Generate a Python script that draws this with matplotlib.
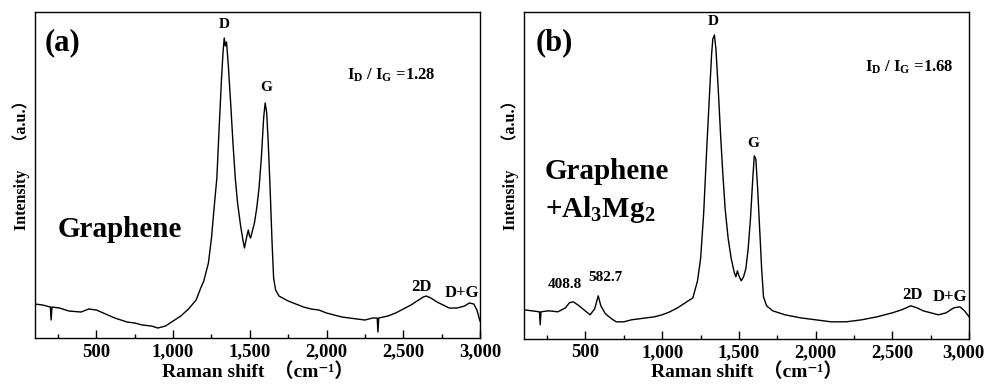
import matplotlib.pyplot as plt
from matplotlib.ticker import MultipleLocator, StrMethodFormatter
from matplotlib.transforms import ScaledTranslation

# Raman spectra (intensity in arbitrary units)
shift_a = [100, 150, 200, 205, 210, 260, 320, 400, 450, 500, 560, 620, 700, 750, 800,
           860, 900, 950, 1000, 1050, 1100, 1150, 1180, 1200, 1230, 1250, 1270, 1285,
           1300, 1315, 1325, 1333, 1340, 1348, 1360, 1375, 1390, 1405, 1420, 1440, 1455,
           1465, 1478, 1490, 1498, 1505, 1518, 1530, 1545, 1560, 1575, 1590, 1600, 1610,
           1620, 1632, 1645, 1655, 1668, 1690, 1750, 1800, 1850, 1900, 1950, 2000, 2050,
           2100, 2150, 2200, 2250, 2300, 2330, 2335, 2340, 2400, 2450, 2500, 2550, 2600,
           2630, 2650, 2680, 2720, 2760, 2800, 2850, 2900, 2930, 2960, 2980, 3000]
int_a = [34, 33, 31, 18, 31, 30, 27, 26, 29, 28, 24, 20, 16, 15, 13,
         12, 10, 12, 17, 22, 29, 38, 50, 57, 75, 100, 135, 160,
         210, 258, 285, 300, 292, 296, 272, 235, 195, 160, 135, 112, 98,
         90, 100, 108, 102, 100, 108, 115, 130, 150, 180, 220, 235, 225,
         195, 150, 95, 60, 48, 42, 37, 34, 31, 29, 28, 25, 23,
         21, 20, 19, 18, 20, 20, 6, 20, 22, 25, 29, 33, 38,
         41, 42, 40, 36, 33, 30, 30, 32, 35, 34, 28, 17]

shift_b = [100, 150, 200, 205, 210, 260, 320, 370, 395, 420, 450, 490, 530, 560, 583,
           600, 630, 670, 700, 750, 800, 850, 900, 950, 1000, 1050, 1100, 1150, 1180,
           1200, 1230, 1250, 1270, 1290, 1310, 1322, 1330, 1340, 1350, 1365, 1380, 1395,
           1410, 1430, 1450, 1470, 1480, 1490, 1500, 1515, 1530, 1545, 1560, 1575, 1590,
           1600, 1610, 1622, 1635, 1648, 1660, 1680, 1720, 1800, 1900, 2000, 2100, 2200,
           2300, 2400, 2500, 2560, 2620, 2660, 2700, 2750, 2800, 2850, 2900, 2940, 2970,
           3000]
int_b = [29, 28, 27, 14, 27, 28, 27, 31, 36, 37, 34, 29, 24, 30, 43,
         33, 25, 20, 17, 17, 19, 20, 21, 22, 24, 27, 31, 36, 39,
         41, 58, 80, 125, 190, 250, 285, 300, 304, 290, 250, 205, 165,
         130, 100, 80, 66, 62, 68, 63, 58, 62, 70, 90, 120, 160,
         183, 180, 150, 110, 70, 42, 33, 28, 24, 21, 19, 17, 17,
         19, 22, 26, 29, 33, 31, 28, 26, 24, 26, 31, 32, 28,
         22]

plt.rcParams['mathtext.fontset'] = 'custom'
plt.rcParams['mathtext.rm'] = 'Liberation Serif:bold'
plt.rcParams['mathtext.bf'] = 'Liberation Serif:bold'
plt.rcParams['mathtext.it'] = 'Liberation Serif:bold'
serif = ['Liberation Serif', 'DejaVu Serif', 'Noto Sans CJK SC']
plt.rcParams['font.family'] = serif
plt.rcParams['font.weight'] = 'bold'

fig = plt.figure(figsize=(9.87, 3.85), dpi=100)
ax_a = fig.add_axes([0.0355, 0.122, 0.4508, 0.847])
ax_b = fig.add_axes([0.531, 0.120, 0.4509, 0.849])


def style_axes(ax, top):
    ax.set_xlim(100, 3000)
    ax.set_ylim(0, top)
    ax.set_yticks([])
    ax.set_xticks([500, 1000, 1500, 2000, 2500, 3000])
    ax.xaxis.set_minor_locator(MultipleLocator(250))
    ax.xaxis.set_major_formatter(StrMethodFormatter('{x:,.0f}'))
    ax.tick_params(axis='x', which='major', direction='in', length=6, width=1,
                   labelsize=13.5, pad=4)
    ax.tick_params(axis='x', which='minor', direction='in', length=3, width=1)
    for lab in ax.get_xticklabels():
        lab.set_fontweight('bold')
    for sp in ax.spines.values():
        sp.set_linewidth(1.0)
    ax.set_xlabel('Raman shift  （cm⁻¹）', fontsize=14, fontweight='bold', labelpad=1)
    ax.set_ylabel('Intensity     （a.u.）', fontsize=11.5, fontweight='bold')
    ax.yaxis.set_label_coords(-0.012, 0.543)


ax_a.plot(shift_a, int_a, color='black', linewidth=1.0)
style_axes(ax_a, 326)
ax_a.text(165, 295, '(a)', fontsize=22, fontweight='bold', va='center')
ax_a.text(1332, 313, 'D', fontsize=11, fontweight='bold', ha='center', va='center')
ax_a.text(1605, 250, 'G', fontsize=11, fontweight='bold', ha='center', va='center')
ax_a.text(2133, 263, 'I$_{\\mathrm{D}}$ / I$_{\\mathrm{G}}$ =1.28', fontsize=12,
          fontweight='bold', va='center')
ax_a.text(250, 108, 'Graphene', fontsize=21, fontweight='bold', va='center')
ax_a.text(2622, 51, '2D', fontsize=12, fontweight='bold', ha='center', va='center')
ax_a.text(2883, 45, 'D+G', fontsize=12, fontweight='bold', ha='center', va='center')

ax_b.plot(shift_b, int_b, color='black', linewidth=1.0)
style_axes(ax_b, 327)
ax_b.text(172, 296, '(b)', fontsize=22, fontweight='bold', va='center')
ax_b.text(1332, 317, 'D', fontsize=11, fontweight='bold', ha='center', va='center')
ax_b.text(1592, 195, 'G', fontsize=11, fontweight='bold', ha='center', va='center')
ax_b.text(2322, 272, 'I$_{\\mathrm{D}}$ / I$_{\\mathrm{G}}$ =1.68', fontsize=12,
          fontweight='bold', va='center')
ax_b.text(237, 167, 'Graphene', fontsize=21, fontweight='bold', va='center')
ax_b.text(237, 129, '+Al$_{3}$Mg$_{2}$', fontsize=21, fontweight='bold', va='center')
ax_b.text(367, 54, '408.8', fontsize=11, fontweight='bold', ha='center', va='center')
ax_b.text(628, 61, '582.7', fontsize=11, fontweight='bold', ha='center', va='center')
ax_b.text(2629, 44, '2D', fontsize=12, fontweight='bold', ha='center', va='center')
ax_b.text(2876, 42, 'D+G', fontsize=12, fontweight='bold', ha='center', va='center')

# the 3,000 label of panel (b) sits a little left of its tick, as in the source
last = ax_b.xaxis.get_major_ticks()[-1].label1
last.set_transform(last.get_transform() + ScaledTranslation(-6 / 100, 0, fig.dpi_scale_trans))

fig.savefig('out.png', dpi=100)
